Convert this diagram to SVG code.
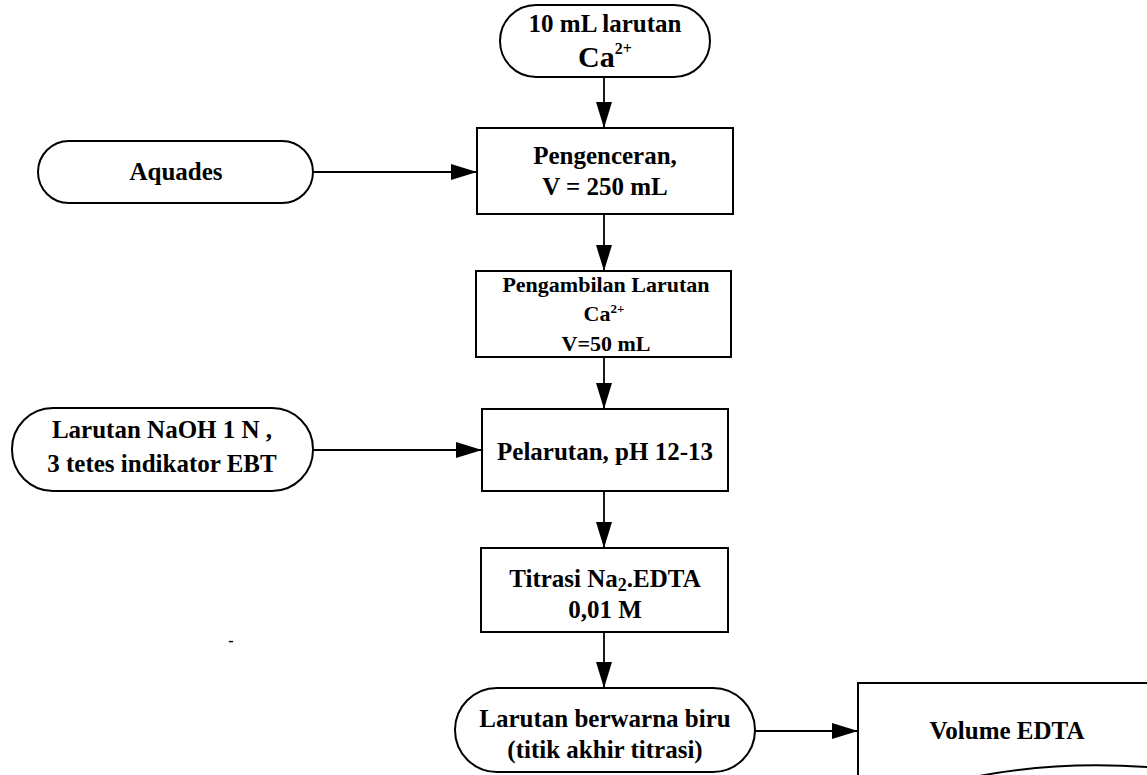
<svg xmlns="http://www.w3.org/2000/svg" width="1147" height="775" viewBox="0 0 1147 775">
  <defs>
    <marker id="arrow" markerWidth="26" markerHeight="16" refX="26" refY="8" orient="auto" markerUnits="userSpaceOnUse">
      <path d="M0,0 L26,8 L0,16 Z" fill="#000"/>
    </marker>
    <style>
      .shape { fill: #fff; stroke: #000; stroke-width: 2; }
      .edge { fill: none; stroke: #000; stroke-width: 1.8; marker-end: url(#arrow); }
      text { font-family: "Liberation Serif", "Times New Roman", serif; font-weight: bold; fill: #000; text-anchor: middle; }
      .t { font-size: 25px; }
      .s { font-size: 22px; }
      .big { font-size: 30px; }
      .sup { font-size: 16px; }
    </style>
  </defs>

  <rect width="1147" height="775" fill="#fff"/>

  <!-- connectors -->
  <g id="connectors">
    <line class="edge" x1="604" y1="77" x2="604" y2="128"/>
    <line class="edge" x1="313" y1="172" x2="477" y2="172"/>
    <line class="edge" x1="604" y1="214" x2="604" y2="271"/>
    <line class="edge" x1="604" y1="357" x2="604" y2="409"/>
    <line class="edge" x1="313" y1="450" x2="482" y2="450"/>
    <line class="edge" x1="604" y1="491" x2="604" y2="548"/>
    <line class="edge" x1="604" y1="632" x2="604" y2="688"/>
    <line class="edge" x1="755" y1="731" x2="858" y2="731"/>
  </g>

  <!-- start: sample solution -->
  <g id="start">
    <rect class="shape" x="500" y="5" width="210" height="72" rx="36" ry="36"/>
    <text class="t" x="605" y="32">10 mL larutan</text>
    <text x="605" y="67"><tspan class="big">Ca</tspan><tspan class="sup" dy="-13">2+</tspan></text>
  </g>

  <!-- dilution water -->
  <g id="aquades">
    <rect class="shape" x="38" y="141" width="275" height="62" rx="31" ry="31"/>
    <text class="t" x="176" y="180">Aquades</text>
  </g>

  <!-- dilution step -->
  <g id="pengenceran">
    <rect class="shape" x="477" y="128" width="256" height="86"/>
    <text class="t" x="605" y="164">Pengenceran,</text>
    <text class="t" x="605" y="195">V = 250 mL</text>
  </g>

  <!-- aliquot step -->
  <g id="pengambilan">
    <rect class="shape" x="476" y="271" width="255" height="86"/>
    <text class="s" x="606" y="292">Pengambilan Larutan</text>
    <text x="604" y="321"><tspan class="s">Ca</tspan><tspan font-size="13" dy="-8">2+</tspan></text>
    <text class="s" x="606" y="351">V=50 mL</text>
  </g>

  <!-- reagents -->
  <g id="naoh">
    <rect class="shape" x="12" y="408" width="301" height="83" rx="41" ry="41"/>
    <text class="t" x="162" y="438">Larutan NaOH 1 N ,</text>
    <text class="t" x="162" y="472">3 tetes indikator EBT</text>
  </g>

  <!-- pH adjustment -->
  <g id="pelarutan">
    <rect class="shape" x="482" y="409" width="246" height="82"/>
    <text class="t" x="605" y="460">Pelarutan, pH 12-13</text>
  </g>

  <!-- titration -->
  <g id="titrasi">
    <rect class="shape" x="481" y="548" width="247" height="84"/>
    <text class="t" x="605" y="587">Titrasi Na<tspan font-size="18" dy="4">2</tspan><tspan dy="-4">.EDTA</tspan></text>
    <text class="t" x="605" y="618">0,01 M</text>
  </g>

  <!-- end point -->
  <g id="titik-akhir">
    <rect class="shape" x="455" y="688" width="300" height="84" rx="42" ry="42"/>
    <text class="t" x="605" y="727">Larutan berwarna biru</text>
    <text class="t" x="605" y="758">(titik akhir titrasi)</text>
  </g>

  <!-- result document -->
  <g id="volume-edta">
    <path class="shape" d="M1160,683 H858 V800"/>
    <path d="M940,785 Q1040,758 1160,768" fill="none" stroke="#000" stroke-width="2"/>
    <text class="t" x="1007" y="739">Volume EDTA</text>
  </g>

  <text x="231" y="646" font-size="16" font-weight="normal">-</text>
</svg>
